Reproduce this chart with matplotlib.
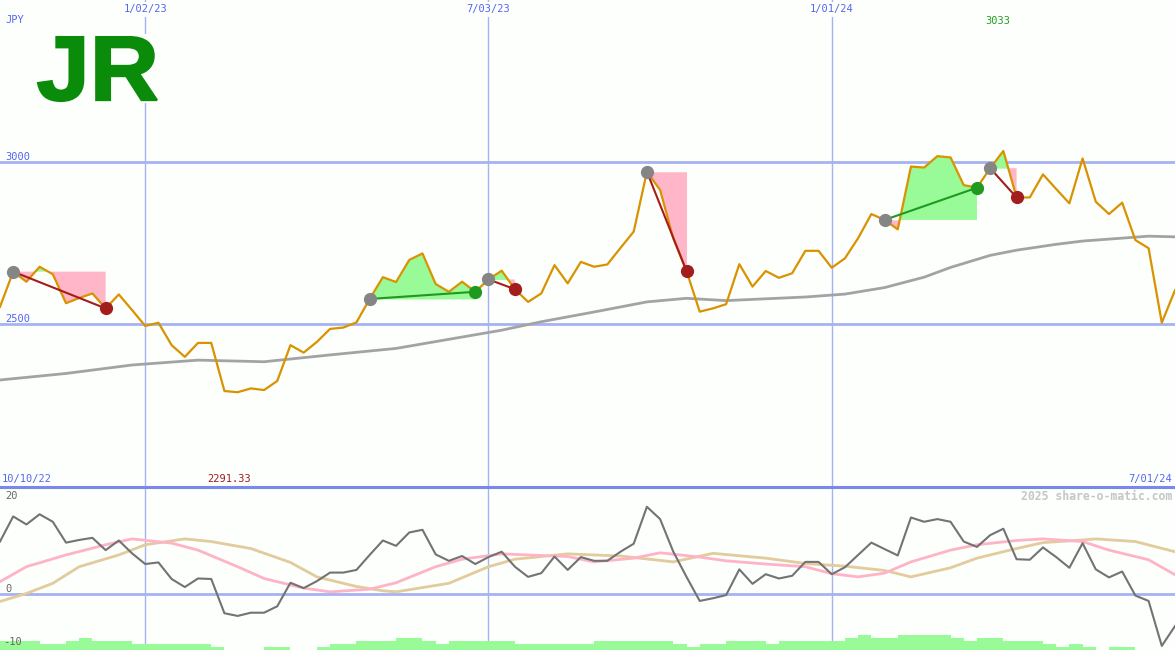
import numpy as np
import pandas as pd
import matplotlib
matplotlib.use('Agg')
import matplotlib.pyplot as plt
import matplotlib.transforms as mtransforms
from matplotlib.textpath import TextPath
from matplotlib.patches import PathPatch, Rectangle
from matplotlib.font_manager import FontProperties

# weekly closes, JPY
dates = pd.date_range('2022-10-17', periods=90, freq='7D')
price = [2554, 2662, 2631, 2677, 2654, 2565, 2581, 2595, 2549, 2592,
         2544, 2495, 2505, 2436, 2400, 2443, 2443, 2295, 2291.33, 2303,
         2298, 2326, 2436, 2413, 2446, 2486, 2490, 2506, 2578, 2645,
         2630, 2698, 2718, 2624, 2600, 2631, 2600, 2638, 2665, 2608,
         2569, 2595, 2682, 2626, 2692, 2677, 2684, 2735, 2785, 2969,
         2913, 2764, 2664, 2539, 2549, 2562, 2685, 2616, 2664, 2643,
         2657, 2726, 2726, 2674, 2703, 2765, 2839, 2821, 2792, 2985,
         2982, 3017, 3013, 2928, 2920, 2980, 3033, 2890, 2890, 2961,
         2916, 2872, 3010, 2877, 2839, 2874, 2759, 2734, 2505, 2605]

# long moving average (read at some weeks)
ma_weeks = [0, 5, 10, 15, 20, 25, 30, 38, 41, 45, 49, 52, 55, 61, 64, 67,
            70, 72, 75, 77, 80, 82, 85, 87, 89]
ma_vals = [2329, 2349, 2375, 2390, 2385, 2406, 2426, 2482, 2508, 2538, 2569,
           2580, 2573, 2584, 2593, 2613, 2645, 2675, 2712, 2728, 2746, 2756,
           2765, 2771, 2769]

# oscillator panel
osc = [9.8, 14.5, 13.0, 14.9, 13.5, 9.6, 10.1, 10.5, 8.2, 10.0,
       7.6, 5.6, 5.9, 2.8, 1.3, 2.9, 2.8, -3.6, -4.1, -3.5,
       -3.5, -2.3, 2.1, 1.1, 2.4, 4.0, 4.0, 4.5, 7.3, 10.0,
       9.0, 11.5, 12.0, 7.4, 6.2, 7.1, 5.6, 6.9, 7.9, 5.1,
       3.2, 3.9, 7.0, 4.5, 6.9, 6.2, 6.2, 7.9, 9.4, 16.3,
       14.0, 7.9, 3.2, -1.3, -0.8, -0.2, 4.6, 1.9, 3.7, 2.9,
       3.4, 6.0, 6.0, 3.7, 5.0, 7.3, 9.6, 8.4, 7.2, 14.3,
       13.5, 14.0, 13.5, 9.8, 8.8, 11.0, 12.2, 6.5, 6.4, 8.7,
       6.9, 4.9, 9.5, 4.6, 3.1, 4.2, -0.3, -1.3, -9.7, -6.0]
pink_w = [0, 2, 5, 8, 10, 13, 15, 18, 20, 23, 25, 28, 30, 33, 35, 38, 40, 43,
          45, 48, 50, 53, 55, 58, 61, 63, 65, 67, 69, 72, 74, 77, 79, 82, 84,
          87, 89]
pink_v = [2.3, 5.1, 7.3, 9.2, 10.3, 9.5, 8.2, 5.1, 2.9, 1.1, 0.4, 0.9, 2.1,
          5.1, 6.5, 7.5, 7.3, 7.0, 6.0, 6.7, 7.7, 6.9, 6.2, 5.6, 5.1, 3.8,
          3.2, 3.9, 6.0, 8.2, 9.2, 10.0, 10.3, 9.8, 8.2, 6.4, 3.6]
tan_w = [0, 2, 4, 6, 9, 11, 14, 16, 19, 22, 24, 27, 29, 30, 34, 37, 39, 43,
         47, 51, 54, 58, 61, 64, 67, 69, 72, 74, 77, 79, 82, 83, 86, 89]
tan_v = [-1.4, 0.1, 2.0, 5.1, 7.3, 9.2, 10.3, 9.8, 8.5, 5.9, 3.2, 1.4, 0.6,
         0.4, 2.0, 5.1, 6.5, 7.5, 7.1, 6.0, 7.6, 6.7, 5.7, 5.2, 4.4, 3.2,
         4.9, 6.7, 8.5, 9.6, 10.1, 10.3, 9.8, 7.9]
vol = [3, 3, 3, 2, 2, 3, 4, 3, 3, 3,
       2, 2, 2, 2, 2, 2, 1, 0, 0, 0,
       1, 1, 0, 0, 1, 2, 2, 3, 3, 3,
       4, 4, 3, 2, 3, 3, 3, 3, 3, 2,
       2, 2, 2, 2, 2, 3, 3, 3, 3, 3,
       3, 2, 1, 2, 2, 3, 3, 3, 2, 3,
       3, 3, 3, 3, 4, 5, 4, 4, 5, 5,
       5, 5, 4, 3, 4, 4, 3, 3, 3, 2,
       1, 2, 1, 0, 1, 1, 0, 0, 0, 0]

# signals: entry week / exit week
trade_start = [1, 28, 37, 49, 67, 75]
trade_end = [8, 36, 39, 52, 74, 77]

grid_dates = ['2023-01-02', '2023-07-03', '2024-01-01']
grid_labels = ['1/02/23', '7/03/23', '1/01/24']
price_lines = [2500, 3000]

W, H = 1175, 650
bg = '#fcfffc'
blue_txt = '#5566ee'
grid_c = '#a6b2f2'
mono = 'DejaVu Sans Mono'

fig = plt.figure(figsize=(W / 100, H / 100), dpi=100, facecolor=bg)
ax = fig.add_axes([0, 163 / H, 1, 487 / H])
ax2 = fig.add_axes([0, 0, 1, 163 / H], sharex=ax)
axv = ax2.twinx()
axv.set_zorder(ax2.get_zorder() - 1)
for a in (ax, ax2, axv):
    a.axis('off')

ax.set_xlim(dates[0], dates[-1])
ax.set_ylim(2000, 3497)
ax2.set_ylim(-10.47, 20)
axv.set_ylim(0, 53.4)

# grid
for d in grid_dates:
    ax.axvline(pd.Timestamp(d), color=grid_c, lw=1, zorder=1)
    axv.axvline(pd.Timestamp(d), color=grid_c, lw=1, zorder=1)
for v in price_lines:
    ax.axhline(v, color=grid_c, lw=2, zorder=1)
ax2.axhline(0, color=grid_c, lw=2, zorder=1)
ax2.axhline(20, color='#7a88ea', lw=2.2, zorder=1, clip_on=False)

# price + average
p = np.array(price)
ax.plot(dates[ma_weeks], ma_vals, color='#a3a3a3', lw=2, zorder=3)
ax.plot(dates, p, color='#d99200', lw=1.6, zorder=4)

for s, e in zip(trade_start, trade_end):
    seg_d = dates[s:e + 1]
    seg_p = p[s:e + 1]
    base = p[s]
    ax.fill_between(seg_d, seg_p, base, where=seg_p >= base, interpolate=True,
                    color='#98fb98', lw=0, zorder=2)
    ax.fill_between(seg_d, seg_p, base, where=seg_p <= base, interpolate=True,
                    color='#ffb6c8', lw=0, zorder=2)
    col = '#1f9a1f' if p[e] > base else '#a31d1d'
    ax.plot([dates[s], dates[e]], [base, p[e]], color=col, lw=1.5, zorder=5)
    ax.plot(dates[s], base, 'o', ms=8.5, color='#858585', zorder=6)
    ax.plot(dates[e], p[e], 'o', ms=8.5, color=col, zorder=6)

# lower panel
axv.bar(dates, vol, width=7, align='edge', color='#98fb98', lw=0, zorder=2)
ax2.plot(dates[tan_w], tan_v, color='#e2cb9c', lw=2, zorder=3)
ax2.plot(dates[pink_w], pink_v, color='#ffb3c7', lw=2, zorder=3)
ax2.plot(dates, osc, color='#737373', lw=1.5, zorder=4)

# labels
blend = mtransforms.blended_transform_factory(ax.transData, fig.transFigure)
for d, lab in zip(grid_dates, grid_labels):
    ax.text(pd.Timestamp(d), 1 - 9 / H, lab, transform=blend, ha='center',
            va='center', fontsize=7.5, color=blue_txt, family=mono,
            bbox=dict(fc=bg, ec='none', pad=1.8))
for v in price_lines:
    ax.text(5 / W, v, str(v), transform=ax.get_yaxis_transform(), ha='left',
            va='bottom', fontsize=7.5, color=blue_txt, family=mono)

def ptext(x, y, s, **kw):
    fig.text(x / W, 1 - y / H, s, va='center', family=mono, fontsize=7.5, **kw)

ptext(5, 20, 'JPY', color=blue_txt)
ptext(998, 21, f'{max(price):.0f}', color='#22a022', ha='center')
ptext(2, 479, '10/10/22', color=blue_txt)
ptext(229, 479, f'{min(price):.2f}', color='#a01c1c', ha='center')
ptext(1172, 479, '7/01/24', color=blue_txt, ha='right')
ptext(5, 496, '20', color='#666666')
ptext(5, 589, '0', color='#666666')
ptext(3, 642, '-10', color='#666666')
fig.text(1172 / W, 1 - 496 / H, '2025 share-o-matic.com', ha='right',
         va='center', family=mono, fontsize=8.3, fontweight='bold',
         color='#c6c6c6')

# logo, stretched into its box
lx0, ly0, lx1, ly1 = 38, 37, 157, 101
fig.add_artist(Rectangle((lx0 / W, 1 - (ly1 + 2) / H), (lx1 - lx0 + 2) / W,
                         (ly1 - ly0 + 5) / H, transform=fig.transFigure,
                         fc=bg, ec='none', zorder=5))
tp = TextPath((0, 0), 'JR', size=100,
              prop=FontProperties(family='Liberation Sans', weight='bold'))
ext = tp.get_extents()
tr = (mtransforms.Affine2D().translate(-ext.x0, -ext.y0)
      .scale((lx1 - lx0) / ext.width / W, (ly1 - ly0) / ext.height / H)
      .translate(lx0 / W, 1 - ly1 / H) + fig.transFigure)
fig.add_artist(PathPatch(tp, transform=tr, fc='#0a8c0a', ec='#0a8c0a',
                         lw=1.5, zorder=6))

fig.savefig('out.png', dpi=100, facecolor=bg)
